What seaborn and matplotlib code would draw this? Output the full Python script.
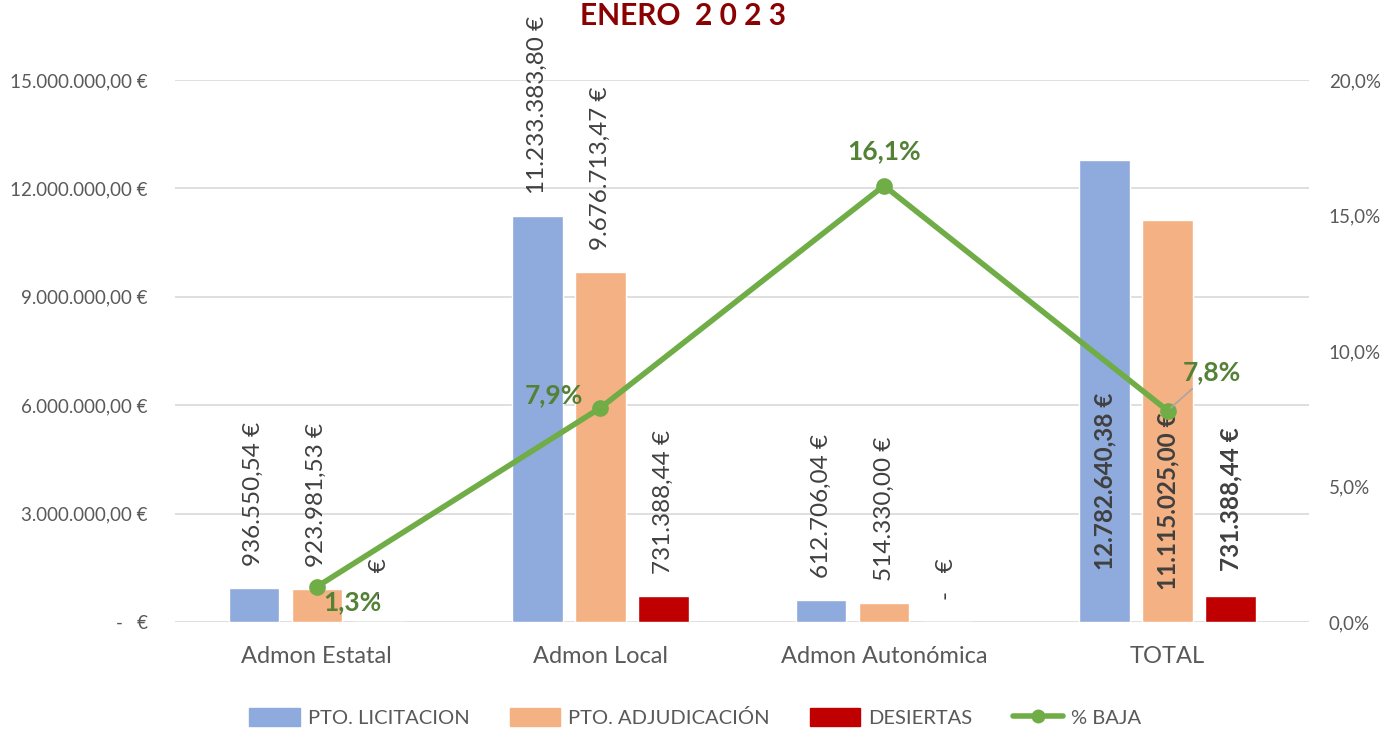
import pandas as pd
import numpy as np
import matplotlib.pyplot as plt
import seaborn as sns
from matplotlib.lines import Line2D
from matplotlib.patches import Patch
from matplotlib.ticker import FuncFormatter, MultipleLocator

# ----------------------
# DATA
# ----------------------
categorias = ["Admon Estatal", "Admon Local", "Admon Autonómica", "TOTAL"]
series = ["PTO. LICITACION", "PTO. ADJUDICACIÓN", "DESIERTAS"]
licitacion = [936550.54, 11233383.80, 612706.04, 12782640.38]
adjudicacion = [923981.53, 9676713.47, 514330.00, 11115025.00]
desiertas = [0.0, 731388.44, 0.0, 731388.44]
pct_baja = [1.3, 7.9, 16.1, 7.8]

colores = ["#8FAADC", "#F4B183", "#C00000"]
verde = "#70AD47"
verde_txt = "#538135"
gris_txt = "#404040"

df = pd.DataFrame({
    "cat": categorias * 3,
    "serie": [s for s in series for _ in categorias],
    "valor": licitacion + adjudicacion + desiertas,
})

def euro(v):
    if v == 0:
        return "-   €"
    s = f"{v:,.2f}".replace(",", "X").replace(".", ",").replace("X", ".")
    return s + " €"

# ----------------------
# FIGURE
# ----------------------
sns.set_theme(style="white")
plt.rcParams['font.family'] = ['Lato', 'DejaVu Sans']

fig = plt.figure(figsize=(13.99, 7.31), dpi=100)
ax = fig.add_axes([0.125, 0.149, 0.811, 0.7416])

sns.barplot(data=df, x="cat", y="valor", hue="serie", palette=colores,
            width=0.666, gap=0.2, ax=ax, legend=False, saturation=1)

ax.set_ylim(0, 15000000)
ax.yaxis.set_major_locator(MultipleLocator(3000000))
ax.yaxis.set_major_formatter(FuncFormatter(lambda v, p: euro(v)))
ax.grid(axis="y", color="#D9D9D9", lw=1.2)
ax.set_axisbelow(True)
ax.set_xlabel("")
ax.set_ylabel("")
for s in ax.spines.values():
    s.set_visible(False)
ax.tick_params(axis="y", labelsize=13.5, colors="#595959", length=0, pad=19.5)
ax.tick_params(axis="x", labelsize=17, colors="#595959", length=0, pad=17)

# value labels
for i, cont in enumerate(ax.containers):
    for j, bar in enumerate(cont):
        xc = bar.get_x() + bar.get_width() / 2
        h = bar.get_height()
        txt = euro(h)
        if categorias[j] == "TOTAL":
            base = [1450000, 900000, 1400000][i]
            ax.text(xc, base, txt, rotation=90, ha="center", va="bottom",
                    fontsize=17.5, fontweight="bold", color=gris_txt)
        else:
            ax.annotate(txt, (xc, h), xytext=(0, 22), textcoords="offset pixels",
                        rotation=90, ha="center", va="bottom", fontsize=17.5,
                        color=gris_txt, annotation_clip=False)

# % BAJA line
ax2 = ax.twinx()
sns.pointplot(x=categorias, y=pct_baja, color=verde, markers="o",
              markersize=9, linewidth=4, ax=ax2)
ax2.set_ylim(0, 20)
ax2.yaxis.set_major_locator(MultipleLocator(5))
ax2.yaxis.set_major_formatter(FuncFormatter(lambda v, p: f"{v:.1f}%".replace(".", ",")))
ax2.tick_params(axis="y", labelsize=13.5, colors="#595959", length=0, pad=14)
for s in ax2.spines.values():
    s.set_visible(False)
ax2.grid(False)
ax2.set_ylabel("")

offsets = [(36, -15), (-46, 13), (0, 35), (44, 39)]
for j, p in enumerate(pct_baja):
    lbl = f"{p:.1f}%".replace(".", ",")
    kw = {}
    if j == 3:
        kw["arrowprops"] = dict(arrowstyle="-", color="#A6A6A6", lw=1.2, shrinkA=2, shrinkB=3)
    ax2.annotate(lbl, (j, p), xytext=offsets[j], textcoords="offset pixels",
                 ha="center", va="center", fontsize=19, fontweight="bold",
                 color=verde_txt, **kw)

ax.set_xlim(-0.5, 3.5)
ax2.set_xlim(-0.5, 3.5)

# title
fig.text(0.488, 0.978, "ENERO  2 0 2 3", ha="center", va="center",
         fontsize=21.5, fontweight="bold", color="#8B0000")

# legend
handles = [Patch(color=c) for c in colores]
handles.append(Line2D([0], [0], color=verde, lw=4, marker="o", markersize=9))
fig.legend(handles, series + ["% BAJA"], loc="center", bbox_to_anchor=(0.497, 0.019),
           ncol=4, frameon=False, fontsize=14.5, labelcolor="#595959",
           handlelength=2.5, handleheight=1.0, columnspacing=2.0, handletextpad=0.4)

fig.savefig("out.png", dpi=100)
